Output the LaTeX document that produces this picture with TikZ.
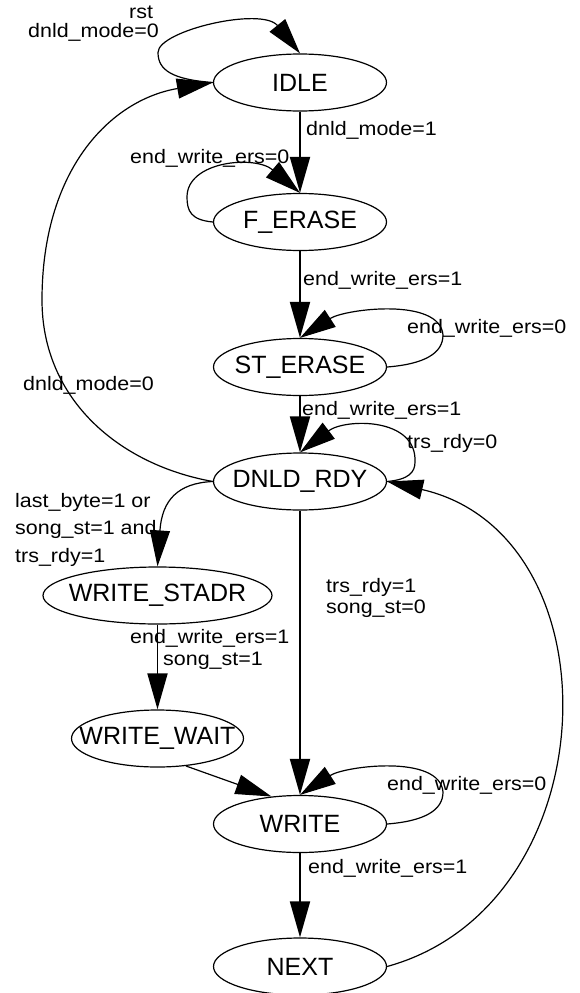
\documentclass[tikz,border=0pt]{standalone}
\usepackage{fontspec}
\setmainfont{Liberation Sans}
\newfontfamily\condfamily[FakeStretch=1.1]{Liberation Sans}
\usetikzlibrary{arrows.meta,shapes.geometric}
\newcommand\statefont{\fontsize{25}{30}\selectfont}
\newcommand\condfont{\condfamily\fontsize{19.5}{23}\selectfont}

\begin{document}
\begin{tikzpicture}[x=1pt,y=-1pt,
  state/.style={ellipse,draw,line width=1.2pt,inner sep=0pt,
    minimum width=173pt,minimum height=57pt,font=\statefont},
  cond/.style={anchor=base west,inner sep=0pt,font=\condfont},
  trans/.style={line width=1.2pt,-{Triangle[length=36pt,width=20pt]}},
  straight/.style={trans,line width=1.9pt}]

\useasboundingbox (0,0) rectangle (579,993);

% states
\node[state] (idle) at (300,82.5)  {\makebox[0pt]{IDLE}};
\node[state] (fe)   at (300,222)   {\makebox[0pt]{F\_ERASE}};
\node[state] (st)   at (300,367)   {\makebox[0pt]{ST\_ERASE}};
\node[state] (dn)   at (300,481.5) {\makebox[0pt]{DNLD\_RDY}};
\node[state,minimum width=229pt] (sa) at (157.5,595.5) {\makebox[0pt]{WRITE\_STADR}};
\node[state,minimum width=172pt] (ww) at (157.5,738.5) {\makebox[0pt]{WRITE\_WAIT}};
\node[state] (wr)   at (300,824)   {\makebox[0pt]{WRITE}};
\node[state] (nx)   at (300,966.5) {\makebox[0pt]{NEXT}};

% turning points of the self loops
\coordinate (idleL) at ([shift={(-142,-30)}]idle.center);
\coordinate (feL)   at ([shift={(-113,-25)}]fe.center);
\coordinate (stR)   at ([shift={(143,-32)}]st.center);
\coordinate (dnR)   at ([shift={(115,-19.5)}]dn.center);
\coordinate (wrR)   at ([shift={(143,-32)}]wr.center);

% straight transitions
\draw[straight] (idle.south) -- (fe.north);
\draw[straight] (fe.south) -- (st.north);
\draw[straight] (st.south) -- (dn.north);
\draw[straight] (dn.south) -- (wr.north);
\draw[straight] (wr.south) -- (nx.north);
\draw[straight] (sa.south) -- (ww.north);
\draw[trans] (ww.-44) -- (wr.136);

% self loops
\draw[trans] (idle.west) .. controls +(-40,-3) and +(0,18) .. (idleL)
  .. controls +(0,-22) and +(-38,-47) .. (idle.north);
\draw[trans] (fe.west) .. controls +(-22,-2) and +(0,14) .. (feL)
  .. controls +(0,-36) and +(-45,-38) .. (fe.north);
\draw[trans] (st.east) .. controls +(38,-3) and +(0,18) .. (stR)
  .. controls +(-3,-38) and +(45,-29) .. (st.north);
\draw[trans] (dn.east) .. controls +(22,-2) and +(0,10) .. (dnR)
  .. controls +(2,-45) and +(45,-34) .. (dn.north);
\draw[trans] (wr.east) .. controls +(38,-3) and +(0,18) .. (wrR)
  .. controls +(-3,-38) and +(45,-29) .. (wr.north);

% curved transitions
\draw[trans] (dn.west) .. controls (178,483) and (162,500) .. (sa.north);
\draw[trans] (dn.west) .. controls (120,465) and (42,400) .. (42,300)
  .. controls (42,170) and (110,100) .. (idle.west);
\draw[trans] (nx.east) .. controls (610,905) and (620,535) .. (dn.east);

% transition conditions
\node[cond] (c1)  at (129,19)  {rst};
\node[cond] (c2)  at (28,37.5) {dnld\_mode=0};
\node[cond] (c3)  at (306,135) {dnld\_mode=1};
\node[cond] (c4)  at (130,163) {end\_write\_ers=0};
\node[cond] (c5)  at (303,285) {end\_write\_ers=1};
\node[cond] (c6)  at (407,333) {end\_write\_ers=0};
\node[cond] (c7)  at (23,390)  {dnld\_mode=0};
\node[cond] (c8)  at (302,415) {end\_write\_ers=1};
\node[cond] (c9)  at (407,448) {trs\_rdy=0};
\node[cond] (c10) at (15,507)  {last\_byte=1 or};
\node[cond] (c11) at (15,534.5){song\_st=1 and};
\node[cond] (c12) at (15,562)  {trs\_rdy=1};
\node[cond] (c13) at (326,592) {trs\_rdy=1};
\node[cond] (c14) at (326,613) {song\_st=0};
\node[cond] (c15) at (130,643) {end\_write\_ers=1};
\node[cond] (c16) at (163,665) {song\_st=1};
\node[cond] (c17) at (387,790) {end\_write\_ers=0};
\node[cond] (c18) at (308,873) {end\_write\_ers=1};
\end{tikzpicture}
\end{document}
